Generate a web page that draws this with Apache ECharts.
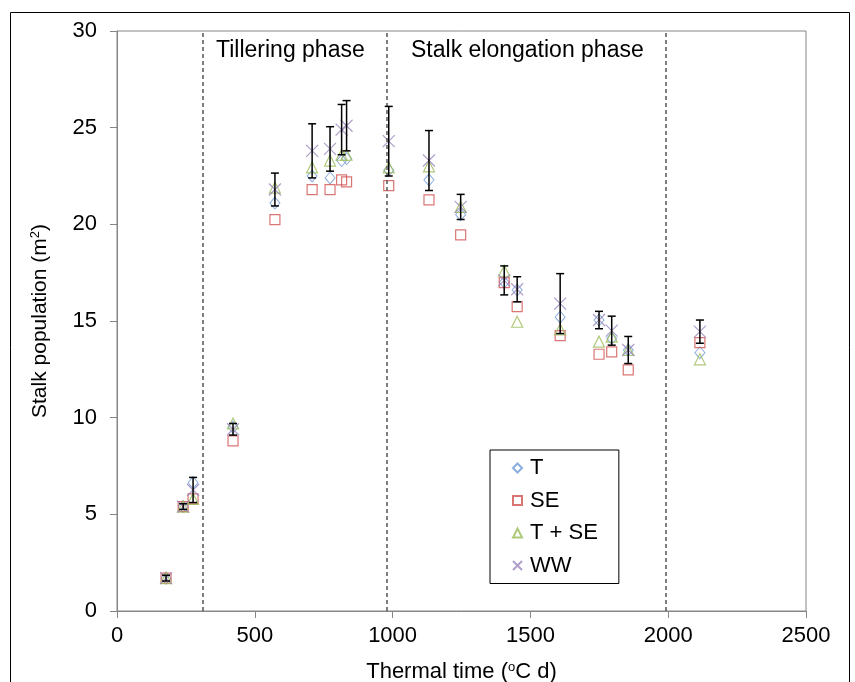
<!DOCTYPE html>
<html>
<head>
<meta charset="utf-8">
<script src="https://cdn.jsdelivr.net/npm/echarts@6/dist/echarts.min.js"></script>
<style>html,body{margin:0;padding:0;background:#fff}#c{width:855px;height:682px}</style>
</head>
<body>
<div id="c"></div>
<script>
// Thermal time (°C d)
var thermal = [178, 240, 276, 421, 573, 708, 773, 815, 833, 986, 1132, 1247, 1405, 1452, 1608, 1749, 1795, 1855, 2115];
var seriesT   = [1.7, 5.4, 6.64, 9.5, 21.1, 22.5, 22.4, 23.3, 23.4, 22.8, 22.3, 20.5, 17.0, 16.6, 15.2, 15.05, 14.1, 13.5, 13.36];
var seriesSE  = [1.7, 5.4, 5.8, 8.8, 20.24, 21.8, 21.8, 22.3, 22.2, 22.0, 21.26, 19.45, 16.98, 15.74, 14.24, 13.28, 13.4, 12.47, 13.88];
var seriesTSE = [1.7, 5.4, 5.8, 9.7, 21.9, 22.95, 23.3, 23.6, 23.6, 22.95, 23.0, 20.9, 17.6, 14.96, 14.57, 13.93, 14.19, 13.5, 13.02];
var seriesWW  = [1.7, 5.4, 6.26, 9.4, 21.8, 23.8, 23.9, 24.9, 25.1, 24.3, 23.3, 20.9, 17.1, 16.64, 15.9, 15.05, 14.5, 13.5, 14.45];
var errWW     = [0.15, 0.15, 0.65, 0.3, 0.85, 1.4, 1.15, 1.3, 1.3, 1.8, 1.55, 0.65, 0.75, 0.65, 1.55, 0.45, 0.75, 0.7, 0.6];
var phaseLines = [310, 980, 1990];
var xTicks = [0, 500, 1000, 1500, 2000, 2500];
var yTicks = [0, 5, 10, 15, 20, 25, 30];

function pairs(ys){ return thermal.map(function(x,i){ return [x, ys[i]]; }); }
var errData = thermal.map(function(x,i){ return [x, seriesWW[i]-errWW[i], seriesWW[i]+errWW[i]]; });

var FONT = 'Liberation Sans, Arial, sans-serif';
var axisGray = '#868686';
var supStyle = {fontSize: 13, verticalAlign: 'top', padding: [0,0,9,0], fontFamily: FONT, color: '#000'};
var chart = echarts.init(document.getElementById('c'));
chart.setOption({
  animation: false,
  backgroundColor: '#fff',
  grid: {left: 117, right: 49, top: 31, bottom: 71, show: true, borderColor: axisGray, borderWidth: 1, outerBoundsMode: 'none', containLabel: false},
  graphic: [
    {type: 'rect', shape: {x: 10.5, y: 12.5, width: 839, height: 700}, style: {fill: 'none', stroke: '#000', lineWidth: 1}, silent: true},
    {type: 'text', left: 216, top: 39, style: {text: 'Tillering phase', font: '23px ' + FONT, fill: '#000'}},
    {type: 'text', left: 411, top: 39, style: {text: 'Stalk elongation phase', font: '23px ' + FONT, fill: '#000'}}
  ],
  xAxis: {
    type: 'value', min: xTicks[0], max: xTicks[xTicks.length-1], interval: 500,
    name: 'Thermal time ({sup|o}C d)', nameLocation: 'middle', nameGap: 50,
    nameTextStyle: {fontSize: 22, fontFamily: FONT, color: '#000', rich: {sup: supStyle}},
    axisLine: {lineStyle: {color: axisGray}},
    axisTick: {show: true, length: 7, lineStyle: {color: axisGray}},
    axisLabel: {fontSize: 22, fontFamily: FONT, color: '#000', margin: 14, formatter: function(v){ return String(v); }},
    splitLine: {show: false}
  },
  yAxis: {
    type: 'value', min: yTicks[0], max: yTicks[yTicks.length-1], interval: 5,
    name: 'Stalk population (m{sup|2})', nameLocation: 'middle', nameGap: 66,
    nameTextStyle: {fontSize: 21, fontFamily: FONT, color: '#000', rich: {sup: supStyle}},
    axisLine: {show: true, lineStyle: {color: axisGray}},
    axisTick: {show: true, length: 7, lineStyle: {color: axisGray}},
    axisLabel: {fontSize: 22, fontFamily: FONT, color: '#000', margin: 20, formatter: function(v){ return String(v); }},
    splitLine: {show: false}
  },
  legend: {
    orient: 'vertical', left: 490, top: 450,
    data: ['T', 'SE', 'T + SE', 'WW'],
    borderColor: '#000', borderWidth: 1, borderRadius: 0,
    padding: [7, 21, 7, 22], itemGap: 10.5, itemWidth: 9, itemHeight: 9,
    textStyle: {fontSize: 22, fontFamily: FONT, color: '#000', padding: [0,0,0,3]}
  },
  series: [
    {name: 'T', type: 'scatter', data: pairs(seriesT), symbol: 'diamond', symbolSize: [10, 12],
     itemStyle: {color: 'transparent', borderColor: '#6f9ad6', borderWidth: 1},
     markLine: {silent: true, symbol: 'none', label: {show: false},
       lineStyle: {color: '#555', type: [4, 3], width: 1.5},
       data: phaseLines.map(function(v){ return {xAxis: v}; })}},
    {name: 'SE', type: 'scatter', data: pairs(seriesSE), symbol: 'rect', symbolSize: 10,
     itemStyle: {color: 'transparent', borderColor: '#d05350', borderWidth: 1.2}},
    {name: 'T + SE', type: 'scatter', data: pairs(seriesTSE), symbol: 'triangle', symbolSize: [11, 11],
     itemStyle: {color: 'transparent', borderColor: '#9bbb59', borderWidth: 1.2}},
    {name: 'WW', type: 'scatter', data: pairs(seriesWW), symbol: 'path://M0,0L10,10M10,0L0,10', symbolSize: 12,
     itemStyle: {color: 'transparent', borderColor: '#9a86bd', borderWidth: 1.2}},
    {name: 'err', type: 'custom', data: errData, z: 5,
     renderItem: function(params, api){
       var x = api.value(0), lo = api.value(1), hi = api.value(2);
       var p1 = api.coord([x, lo]), p2 = api.coord([x, hi]);
       var w = 4;
       var st = {stroke: '#000', lineWidth: 1.5};
       return {type: 'group', children: [
         {type: 'line', shape: {x1: p1[0], y1: p1[1], x2: p2[0], y2: p2[1]}, style: st},
         {type: 'line', shape: {x1: p1[0]-w, y1: p1[1], x2: p1[0]+w, y2: p1[1]}, style: st},
         {type: 'line', shape: {x1: p2[0]-w, y1: p2[1], x2: p2[0]+w, y2: p2[1]}, style: st}
       ]};
     }}
  ]
});
</script>
</body>
</html>
